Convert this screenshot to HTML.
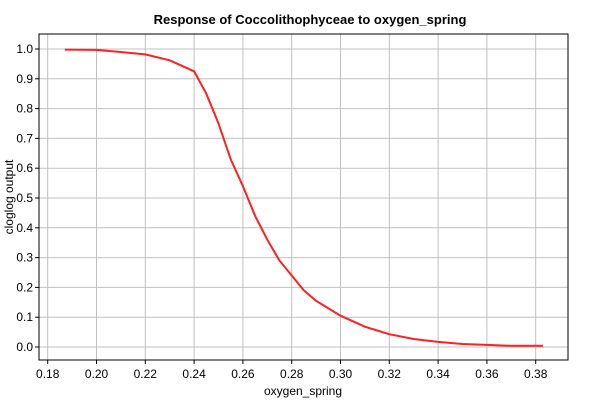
<!DOCTYPE html>
<html><head><meta charset="utf-8"><style>
body{margin:0;background:#fff;font-family:"Liberation Sans",sans-serif}
</style></head><body>
<svg id="chart" width="600" height="400" xmlns="http://www.w3.org/2000/svg" font-family="Liberation Sans, sans-serif">
<rect width="600" height="400" fill="#fff"/>
<text x="310" y="24" text-anchor="middle" font-size="13" font-weight="bold">Response of Coccolithophyceae to oxygen_spring</text>
<g id="grid"></g>
<g id="axes"></g>
<path id="line" fill="none" stroke="#ff2020" stroke-width="2"/>
<rect x="39" y="34" width="529" height="326" fill="none" stroke="#000"/>
<text x="303" y="395" text-anchor="middle" font-size="12">oxygen_spring</text>
<text x="13" y="197" text-anchor="middle" font-size="12" transform="rotate(-90 13 197)">cloglog output</text>
</svg>
<script>
const xs=[0.187,0.20,0.21,0.22,0.23,0.24,0.245,0.25,0.255,0.26,0.265,0.27,0.275,0.28,0.285,0.29,0.30,0.31,0.32,0.33,0.34,0.35,0.36,0.37,0.383];
const ys=[0.998,0.997,0.99,0.982,0.962,0.925,0.85,0.75,0.63,0.54,0.44,0.36,0.29,0.24,0.19,0.155,0.105,0.068,0.043,0.027,0.017,0.01,0.007,0.004,0.004];
const xTicks=[0.18,0.20,0.22,0.24,0.26,0.28,0.30,0.32,0.34,0.36,0.38];
const yTicks=[0,0.1,0.2,0.3,0.4,0.5,0.6,0.7,0.8,0.9,1.0];
function X(v){return 47.7+(v-0.18)/0.02*48.8;}
function Y(v){return 347-v*298;}
const ns="http://www.w3.org/2000/svg";
const grid=document.getElementById('grid'),axes=document.getElementById('axes');
function mk(tag,at,par){const e=document.createElementNS(ns,tag);for(const k in at)e.setAttribute(k,at[k]);par.appendChild(e);return e;}
xTicks.forEach(t=>{const x=X(t);
const g=mk('line',{x1:x,x2:x,y1:34,y2:360,stroke:'#c0c0c0'},grid);


mk('line',{x1:x,x2:x,y1:360,y2:364,stroke:'#000'},axes);
const tx=mk('text',{x:x,y:378,'text-anchor':'middle','font-size':'12'},axes);tx.textContent=t.toFixed(2);

});
yTicks.forEach(t=>{const y=Y(t);
const g=mk('line',{x1:39,x2:568,y1:y,y2:y,stroke:'#c0c0c0'},grid);


mk('line',{x1:35,x2:39,y1:y,y2:y,stroke:'#000'},axes);
const tx=mk('text',{x:33,y:y+4,'text-anchor':'end','font-size':'12'},axes);tx.textContent=t.toFixed(1);

});
document.getElementById('line').setAttribute('d',xs.map((v,i)=>(i?'L':'M')+X(v).toFixed(1)+','+Y(ys[i]).toFixed(1)).join(''));
</script>
</body></html>
